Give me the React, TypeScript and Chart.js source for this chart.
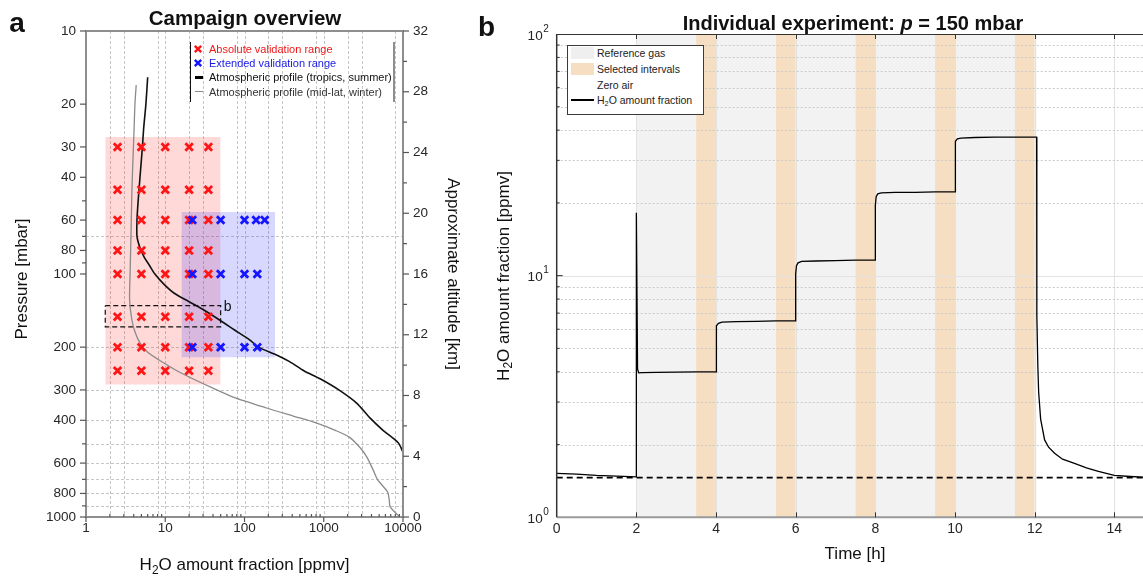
import React, { useEffect, useRef } from "react";
import { Chart, registerables } from "chart.js";

Chart.register(...registerables);

const FONT = "'Liberation Sans', Arial, Helvetica, sans-serif";
Chart.defaults.font.family = FONT;

// ---------------- Panel a: campaign overview ----------------
const absoluteFractions = [2.5, 5, 10, 20, 35];
const absolutePressures = [30, 45, 60, 80, 100, 150, 200, 250];
const extendedPressures = [60, 100, 200];
const extendedFractionsAt60 = [22, 50, 100, 140, 180];
const extendedFractionsAt100 = [22, 50, 100, 145];
const extendedFractionsAt200 = [22, 50, 100, 145];
const absoluteRangeX = [1.75, 50];
const absoluteRangeP = [27.3, 285];
const extendedRangeX = [16, 243];
const extendedRangeP = [55.6, 220];
const experimentBoxX = [1.75, 50];
const experimentBoxP = [135, 165];

const tropicsPressure = [15.5, 20, 25, 30, 40, 50, 60, 70, 78, 85, 92, 100, 110, 120, 130, 140, 155, 170, 187, 200, 215, 230, 250, 270, 300, 340, 390, 440, 495, 540];
const tropicsFraction = [6.0, 5.7, 5.35, 5.15, 4.8, 4.55, 4.4, 4.4, 4.8, 5.4, 6.3, 7.4, 9.6, 13, 20, 30, 49, 75, 117, 150, 250, 375, 560, 900, 1550, 2600, 3800, 5600, 8700, 10000];
const midlatPressure = [16.7, 19.8, 25, 31, 45, 68, 100, 128, 155, 175, 192, 210, 232, 250, 273, 295, 321, 356, 385, 410, 440, 469, 520, 567, 640, 704, 789, 850, 909, 1000];
const midlatFraction = [4.3, 4.15, 4.05, 3.95, 3.8, 3.7, 3.6, 3.55, 3.8, 4.2, 4.8, 6.0, 9.5, 14, 24, 40, 72, 190, 420, 800, 1400, 2100, 2900, 3500, 4200, 4800, 6400, 6700, 6900, 9100];

const pressureTickLabels = [10, 20, 30, 40, 60, 80, 100, 200, 300, 400, 600, 800, 1000];
const pressureMinorTicks = [50, 70, 90, 500, 700, 900];
const fractionTickLabels = [1, 10, 100, 1000, 10000];
const fractionDecades = [1, 10, 100, 1000];
const altitudeTickLabels = [0, 4, 8, 12, 16, 20, 24, 28, 32];
const altitudeMinorTicks = [2, 6, 10, 14, 18, 22, 26, 30];
const fractionGridLines = [2, 3, 8, 10, 20, 30, 80, 100, 200, 300, 800, 1000, 2000, 3000, 8000];
const pressureGridLines = [70, 200, 300, 400, 500, 600, 700, 800, 900];

// ---------------- Panel b: individual experiment ----------------
const timeHours = [0, 0.5, 1, 1.5, 2.0, 2.0, 2.03, 2.06, 2.15, 2.5, 3, 3.5, 4.0, 4.0, 4.02, 4.06, 4.15, 4.5, 5, 5.5, 6.0, 6.0, 6.02, 6.06, 6.15, 6.5, 7, 7.5, 8.0, 8.0, 8.02, 8.06, 8.15, 8.5, 9, 9.5, 10.0, 10.0, 10.02, 10.06, 10.15, 10.5, 11, 11.5, 12.05, 12.055, 12.08, 12.1, 12.15, 12.25, 12.35, 12.5, 12.7, 13.0, 13.3, 13.6, 14.0, 14.4, 14.72];
const h2oPpmv = [1.52, 1.51, 1.49, 1.48, 1.47, 18.2, 4.1, 3.96, 3.97, 3.98, 3.99, 4.0, 4.0, 5.8, 6.2, 6.35, 6.42, 6.45, 6.47, 6.5, 6.5, 10.2, 11.0, 11.3, 11.45, 11.5, 11.55, 11.6, 11.6, 19.5, 21.2, 21.8, 22.0, 22.1, 22.1, 22.2, 22.2, 33.0, 36.0, 36.8, 37.1, 37.3, 37.4, 37.4, 37.4, 6.8, 4.2, 3.3, 2.55, 2.09, 1.95, 1.84, 1.74, 1.67, 1.6, 1.55, 1.49, 1.475, 1.465];
const zeroAirLevel = 1.46;
const referenceGasSpan = [2.0, 12.05];
const selectedStarts = [3.5, 5.5, 7.5, 9.5, 11.5];
const selectedEnds = [4.0, 6.0, 8.0, 10.0, 12.0];
const timeTickLabels = [0, 2, 4, 6, 8, 10, 12, 14];
const timeMax = 14.72;
const fractionBTicks = [1, 10, 100];
const fractionBMinor = [2, 3, 4, 5, 6, 7, 8, 9, 20, 30, 40, 50, 60, 70, 80, 90];

const zip = (xs: number[], ys: number[]) => xs.map((x, i) => ({ x, y: ys[i] }));

const seg = (ctx: CanvasRenderingContext2D, x1: number, y1: number, x2: number, y2: number) => {
  ctx.beginPath();
  ctx.moveTo(x1, y1);
  ctx.lineTo(x2, y2);
  ctx.stroke();
};

const campaignPlugin = {
  id: "campaignDecor",
  beforeDatasetsDraw(chart: any) {
    const { ctx, chartArea: a, scales } = chart;
    ctx.save();
    ctx.strokeStyle = "#c6c6c6";
    ctx.lineWidth = 1;
    ctx.setLineDash([3, 2]);
    for (const v of fractionGridLines) {
      const x = Math.round(scales.x.getPixelForValue(v)) + 0.5;
      seg(ctx, x, a.top, x, a.bottom);
    }
    for (const v of pressureGridLines) {
      const y = Math.round(scales.y.getPixelForValue(v)) + 0.5;
      seg(ctx, a.left, y, a.right, y);
    }
    ctx.restore();
  },
  afterDatasetsDraw(chart: any) {
    const { ctx, chartArea: a, scales } = chart;
    ctx.save();
    ctx.setLineDash([]);
    ctx.strokeStyle = "#8e8e8e";
    ctx.lineWidth = 2;
    ctx.strokeRect(a.left, a.top, a.right - a.left, a.bottom - a.top);
    ctx.strokeStyle = "#555";
    ctx.lineWidth = 1.2;
    for (const v of pressureTickLabels) {
      const y = scales.y.getPixelForValue(v);
      seg(ctx, a.left - 6, y, a.left, y);
    }
    for (const v of pressureMinorTicks) {
      const y = scales.y.getPixelForValue(v);
      seg(ctx, a.left - 4, y, a.left, y);
    }
    for (const v of fractionTickLabels) {
      const x = scales.x.getPixelForValue(v);
      seg(ctx, x, a.bottom, x, a.bottom + 5);
    }
    for (const d of fractionDecades) {
      for (let m = 2; m <= 9; m++) {
        const x = scales.x.getPixelForValue(m * d);
        seg(ctx, x, a.bottom - 3, x, a.bottom);
      }
    }
    for (const v of altitudeTickLabels) {
      const y = scales.y2.getPixelForValue(v);
      seg(ctx, a.right, y, a.right + 6, y);
    }
    for (const v of altitudeMinorTicks) {
      const y = scales.y2.getPixelForValue(v);
      seg(ctx, a.right, y, a.right + 4, y);
    }
    ctx.fillStyle = "#111";
    ctx.font = `14px ${FONT}`;
    ctx.textAlign = "left";
    ctx.textBaseline = "middle";
    ctx.fillText("b", scales.x.getPixelForValue(experimentBoxX[1]) + 3, scales.y.getPixelForValue(experimentBoxP[0]) + 1);
    ctx.restore();
  },
};

const experimentPlugin = {
  id: "experimentDecor",
  beforeDatasetDraw(chart: any, args: any) {
    if (args.index !== 1) return;
    const { ctx, chartArea: a, scales } = chart;
    ctx.save();
    ctx.lineWidth = 1;
    ctx.strokeStyle = "#e2e2e2";
    for (const v of timeTickLabels) {
      if (v === 0) continue;
      const x = Math.round(scales.x.getPixelForValue(v)) + 0.5;
      seg(ctx, x, a.top, x, a.bottom);
    }
    const y10 = Math.round(scales.y.getPixelForValue(10)) + 0.5;
    seg(ctx, a.left, y10, a.right, y10);
    ctx.strokeStyle = "#cbcbcb";
    ctx.setLineDash([2, 2]);
    for (const v of fractionBMinor) {
      const y = Math.round(scales.y.getPixelForValue(v)) + 0.5;
      seg(ctx, a.left, y, a.right, y);
    }
    ctx.restore();
  },
  afterDatasetsDraw(chart: any) {
    const { ctx, chartArea: a, scales } = chart;
    ctx.save();
    ctx.setLineDash([]);
    ctx.strokeStyle = "#9a9a9a";
    ctx.lineWidth = 2;
    seg(ctx, a.left, a.bottom, a.right, a.bottom);
    ctx.strokeStyle = "#333";
    ctx.lineWidth = 1;
    seg(ctx, a.left, a.top + 0.5, a.right, a.top + 0.5);
    ctx.lineWidth = 1.5;
    seg(ctx, a.left, a.top, a.left, a.bottom);
    ctx.lineWidth = 1;
    for (const v of timeTickLabels) {
      if (v === 0) continue;
      const x = Math.round(scales.x.getPixelForValue(v)) + 0.5;
      seg(ctx, x, a.top, x, a.top + 5);
      seg(ctx, x, a.bottom - 5, x, a.bottom);
    }
    const y10 = scales.y.getPixelForValue(10);
    seg(ctx, a.left, y10, a.left + 6, y10);
    for (const v of fractionBMinor) {
      const y = scales.y.getPixelForValue(v);
      seg(ctx, a.left, y, a.left + 3, y);
    }
    ctx.fillStyle = "#222";
    for (const v of fractionBTicks) {
      const y = scales.y.getPixelForValue(v);
      const exp = String(Math.round(Math.log10(v)));
      ctx.font = `10px ${FONT}`;
      const ew = ctx.measureText(exp).width;
      const right = a.left - 8;
      ctx.textBaseline = "middle";
      ctx.textAlign = "left";
      ctx.fillText(exp, right - ew, y - 5);
      ctx.font = `13.5px ${FONT}`;
      ctx.textAlign = "right";
      ctx.fillText("10", right - ew - 0.5, y + 2);
    }
    ctx.restore();
  },
};

function CampaignChart() {
  const ref = useRef<HTMLCanvasElement>(null);
  useEffect(() => {
    const absolutePoints = absolutePressures.flatMap((p) => absoluteFractions.map((x) => ({ x, y: p })));
    const extendedRows = [extendedFractionsAt60, extendedFractionsAt100, extendedFractionsAt200];
    const extendedPoints = extendedPressures.flatMap((p, i) => extendedRows[i].map((x) => ({ x, y: p })));
    const tickFont = { size: 13.5, family: FONT };
    const chart = new Chart(ref.current as HTMLCanvasElement, {
      type: "line",
      data: {
        datasets: [
          {
            data: extendedPoints, showLine: false, pointStyle: "crossRot", pointRadius: 5.3, pointBorderWidth: 2.8,
            pointBorderColor: "#1515ff", borderColor: "#1515ff", order: 0,
          },
          {
            data: absolutePoints, showLine: false, pointStyle: "crossRot", pointRadius: 5.3, pointBorderWidth: 2.8,
            pointBorderColor: "#ff1515", borderColor: "#ff1515", order: 1,
          },
          {
            data: zip(tropicsFraction, tropicsPressure), borderColor: "#111", borderWidth: 1.6, pointRadius: 0,
            tension: 0.25, order: 2,
          },
          {
            data: zip(midlatFraction, midlatPressure), borderColor: "#8a8a8a", borderWidth: 1.3, pointRadius: 0,
            tension: 0.25, order: 3,
          },
          {
            data: [
              { x: experimentBoxX[0], y: experimentBoxP[0] },
              { x: experimentBoxX[1], y: experimentBoxP[0] },
              { x: experimentBoxX[1], y: experimentBoxP[1] },
              { x: experimentBoxX[0], y: experimentBoxP[1] },
              { x: experimentBoxX[0], y: experimentBoxP[0] },
            ],
            borderColor: "#111", borderWidth: 1.2, borderDash: [5, 3], pointRadius: 0, order: 4,
          },
          {
            data: [{ x: extendedRangeX[0], y: extendedRangeP[0] }, { x: extendedRangeX[1], y: extendedRangeP[0] }],
            borderWidth: 0, pointRadius: 0, fill: { value: extendedRangeP[1] },
            backgroundColor: "rgba(40,40,255,0.18)", order: 5,
          },
          {
            data: [{ x: absoluteRangeX[0], y: absoluteRangeP[0] }, { x: absoluteRangeX[1], y: absoluteRangeP[0] }],
            borderWidth: 0, pointRadius: 0, fill: { value: absoluteRangeP[1] },
            backgroundColor: "rgba(255,40,40,0.18)", order: 6,
          },
        ],
      } as any,
      options: {
        animation: false,
        responsive: false,
        events: [],
        layout: { padding: { left: 0, top: 31, right: 0, bottom: 0 } },
        plugins: { legend: { display: false }, tooltip: { enabled: false } },
        scales: {
          x: {
            type: "logarithmic", min: 1, max: 10000, position: "bottom",
            afterFit: (s: any) => { s.height = 59; },
            afterBuildTicks: (s: any) => { s.ticks = fractionTickLabels.map((v) => ({ value: v })); },
            ticks: { callback: (v: any) => String(v), padding: 3, color: "#262626", font: tickFont, autoSkip: false, maxRotation: 0 },
            grid: { display: false, drawTicks: false },
            border: { display: false },
          },
          y: {
            type: "logarithmic", min: 10, max: 1000, reverse: true, position: "left",
            afterFit: (s: any) => { s.width = 86; },
            afterBuildTicks: (s: any) => { s.ticks = pressureTickLabels.map((v) => ({ value: v })); },
            ticks: { callback: (v: any) => String(v), padding: 10, color: "#262626", font: tickFont, autoSkip: false },
            grid: { display: false, drawTicks: false },
            border: { display: false },
          },
          y2: {
            type: "linear", min: 0, max: 32, position: "right",
            afterFit: (s: any) => { s.width = 77; },
            afterBuildTicks: (s: any) => { s.ticks = altitudeTickLabels.map((v) => ({ value: v })); },
            ticks: { callback: (v: any) => String(v), padding: 10, color: "#262626", font: tickFont, autoSkip: false },
            grid: { display: false, drawTicks: false },
            border: { display: false },
          },
        },
      } as any,
      plugins: [campaignPlugin],
    });
    return () => chart.destroy();
  }, []);
  return <canvas ref={ref} width={480} height={576} style={{ position: "absolute", left: 0, top: 0, width: 480, height: 576 }} />;
}

function ExperimentChart() {
  const ref = useRef<HTMLCanvasElement>(null);
  useEffect(() => {
    const bands = selectedStarts.map((s, i) => ({
      data: [{ x: s, y: 100 }, { x: selectedEnds[i], y: 100 }],
      borderWidth: 0, pointRadius: 0, fill: "start", backgroundColor: "#f5dec1", order: 2,
    }));
    const chart = new Chart(ref.current as HTMLCanvasElement, {
      type: "line",
      data: {
        datasets: [
          { data: zip(timeHours, h2oPpmv), borderColor: "#000", borderWidth: 1.3, pointRadius: 0, order: 0 },
          {
            data: [{ x: 0, y: zeroAirLevel }, { x: timeMax, y: zeroAirLevel }],
            borderColor: "#000", borderWidth: 1.6, borderDash: [6, 4], pointRadius: 0, order: 1,
          },
          ...bands,
          {
            data: [{ x: referenceGasSpan[0], y: 100 }, { x: referenceGasSpan[1], y: 100 }],
            borderWidth: 0, pointRadius: 0, fill: "start", backgroundColor: "#f2f2f2", order: 3,
          },
        ],
      } as any,
      options: {
        animation: false,
        responsive: false,
        events: [],
        layout: { padding: { left: 0, top: 34, right: 0, bottom: 0 } },
        plugins: { legend: { display: false }, tooltip: { enabled: false } },
        scales: {
          x: {
            type: "linear", min: 0, max: timeMax, position: "bottom",
            afterFit: (s: any) => { s.height = 58.7; },
            afterBuildTicks: (s: any) => { s.ticks = timeTickLabels.map((v) => ({ value: v })); },
            ticks: { callback: (v: any) => String(v), padding: 3, color: "#262626", font: { size: 14, family: FONT }, autoSkip: false, maxRotation: 0 },
            grid: { display: false, drawTicks: false },
            border: { display: false },
          },
          y: {
            type: "logarithmic", min: 1, max: 100, position: "left",
            afterFit: (s: any) => { s.width = 76.7; },
            ticks: { display: false },
            grid: { display: false, drawTicks: false },
            border: { display: false },
          },
        },
      } as any,
      plugins: [experimentPlugin],
    });
    return () => chart.destroy();
  }, []);
  return <canvas ref={ref} width={663} height={576} style={{ position: "absolute", left: 480, top: 0, width: 663, height: 576 }} />;
}

const abs = (left: number, top: number, extra: any = {}) => ({
  position: "absolute" as const, left, top, whiteSpace: "nowrap" as const, lineHeight: 1, ...extra,
});

const Sub = ({ children }: { children: any }) => (
  <span style={{ fontSize: "0.7em", verticalAlign: "-0.3em" }}>{children}</span>
);

const Cross = ({ color }: { color: string }) => (
  <svg width="10" height="10" style={{ position: "absolute", left: 193, top: -5 }}>
    <path d="M1.8 1.8 L8.2 8.2 M8.2 1.8 L1.8 8.2" stroke={color} strokeWidth="2.4" fill="none" />
  </svg>
);

function LegendA() {
  const rows = [
    { y: 49.3, text: "Absolute validation range", color: "#f01818", marker: <Cross color="#ff1515" /> },
    { y: 63.3, text: "Extended validation range", color: "#1a1ae6", marker: <Cross color="#1515ff" /> },
    { y: 77.3, text: "Atmospheric profile (tropics, summer)", color: "#111", marker: <div style={abs(195, -1.5, { width: 8, height: 3, background: "#000" })} /> },
    { y: 91.7, text: "Atmospheric profile (mid-lat, winter)", color: "#333", marker: <div style={abs(195, -0.75, { width: 8, height: 1.5, background: "#8a8a8a" })} /> },
  ];
  return (
    <>
      <div style={abs(190, 42, { width: 0, height: 60, borderLeft: "1px solid #111" })} />
      <div style={abs(393, 42, { width: 0, height: 60, borderLeft: "2px solid #8e8e8e" })} />
      {rows.map((r, i) => (
        <div key={i} style={abs(0, r.y, { width: 0, height: 0 })}>
          {r.marker}
          <div style={abs(209, -6, { fontSize: 11, height: 12, lineHeight: "12px", color: r.color })}>{r.text}</div>
        </div>
      ))}
    </>
  );
}

function LegendB() {
  const rows = [
    { y: 53.3, text: <>Reference gas</>, patch: "#efefef" },
    { y: 69, text: <>Selected intervals</>, patch: "#f5dec1" },
    { y: 85, text: <>Zero air</>, patch: "#ffffff" },
    { y: 100, text: <>H<Sub>2</Sub>O amount fraction</>, patch: null },
  ];
  return (
    <>
      <div style={abs(567, 45, { width: 135, height: 68, border: "1px solid #3a3a3a", background: "#fff" })} />
      {rows.map((r, i) => (
        <div key={i} style={abs(0, r.y, { width: 0, height: 0 })}>
          {r.patch ? (
            <div style={abs(571, -6, { width: 23, height: 12, background: r.patch })} />
          ) : (
            <div style={abs(571, -1, { width: 23, height: 2, background: "#000" })} />
          )}
          <div style={abs(597, -6, { fontSize: 10.5, height: 12, lineHeight: "12px", color: "#222" })}>{r.text}</div>
        </div>
      ))}
    </>
  );
}

export default function App() {
  return (
    <div style={{ position: "absolute", left: 0, top: 0, width: 1143, height: 576, background: "#fff", overflow: "hidden", fontFamily: FONT, color: "#111" }}>
      <CampaignChart />
      <ExperimentChart />
      <LegendA />
      <LegendB />
      <div style={abs(9.3, 9.3, { fontSize: 28, fontWeight: "bold", height: 28 })}>a</div>
      <div style={abs(478, 13, { fontSize: 28, fontWeight: "bold", height: 28 })}>b</div>
      <div style={abs(245, 8.1, { fontSize: 20.5, fontWeight: "bold", height: 20.5, transform: "translateX(-50%)" })}>Campaign overview</div>
      <div style={abs(853, 13.1, { fontSize: 20, fontWeight: "bold", height: 20, transform: "translateX(-50%)" })}>
        Individual experiment: <i>p</i> = 150 mbar
      </div>
      <div style={abs(244.5, 555.6, { fontSize: 17, height: 17, transform: "translateX(-50%)" })}>
        H<Sub>2</Sub>O amount fraction [ppmv]
      </div>
      <div style={abs(855, 545.1, { fontSize: 17, height: 17, transform: "translateX(-50%)" })}>Time [h]</div>
      <div style={abs(21.3, 279, { fontSize: 17, height: 17, transform: "translate(-50%, -50%) rotate(-90deg)" })}>Pressure [mbar]</div>
      <div style={abs(453, 274, { fontSize: 17, height: 17, transform: "translate(-50%, -50%) rotate(90deg)" })}>Approximate altitude [km]</div>
      <div style={abs(503, 276, { fontSize: 17, height: 17, transform: "translate(-50%, -50%) rotate(-90deg)" })}>
        H<Sub>2</Sub>O amount fraction [ppmv]
      </div>
    </div>
  );
}
